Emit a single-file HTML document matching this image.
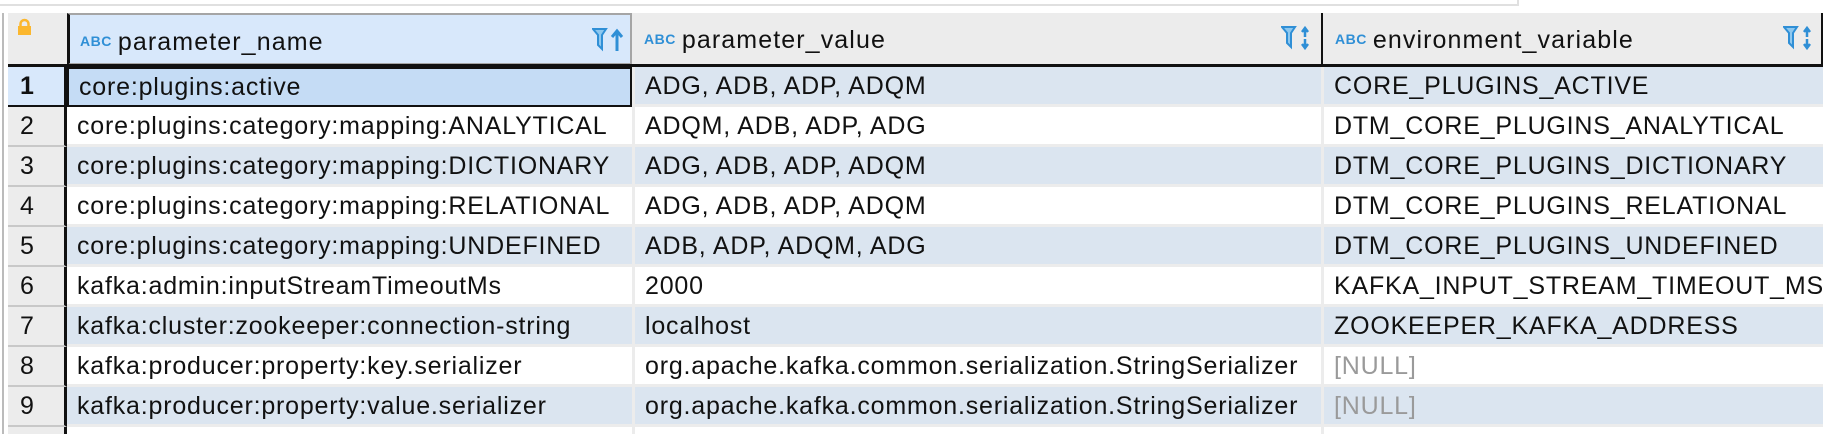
<!DOCTYPE html>
<html><head><style>
html,body{margin:0;width:1832px;height:434px;overflow:hidden;}
body{background:#fff;position:relative;font-family:"Liberation Sans",sans-serif;}
.abs{position:absolute;box-sizing:border-box;}
.cell{position:absolute;box-sizing:border-box;font-size:25px;letter-spacing:0.8px;padding-left:10px;white-space:nowrap;color:#111;overflow:hidden;}
.num{padding-left:12px;letter-spacing:0;}
.hd{position:absolute;box-sizing:border-box;font-size:25px;letter-spacing:1.1px;line-height:52px;color:#111;background:#ececec;top:13px;height:52px;}
.abc{font-size:14px;font-weight:bold;color:#2f8fd6;margin-right:6px;vertical-align:4px;letter-spacing:0.5px;}
.ic{position:absolute;top:12px;}
</style></head><body>
<div class="abs" style="left:0;top:-2px;width:1519px;height:8px;border:2px solid #e0e0e0;border-top:none;border-left:none"></div>
<div class="abs" style="left:2px;top:13px;width:2px;height:421px;background:#bbb"></div>
<div class="hd" style="left:8px;width:59px"></div>
<svg class="abs" style="left:17px;top:18px" width="15" height="18"><path d="M3.5 9V6a4 4 0 0 1 8 0v3" fill="none" stroke="#fbb72e" stroke-width="2.5"/><rect x="1" y="8" width="13" height="9" fill="#fbb72e"/></svg>
<div class="hd" style="left:67px;width:565px;background:#d8e8fb;border:2px solid #a5a5a5;padding-left:10px;border-left:3px solid #111"><span class="abc">ABC</span>parameter_name
<svg class="ic" style="right:6px" width="32" height="30"><path d="M1 2h13l-4 6v14l-4-4V8z" fill="#8ec8ef" stroke="#2f8fd6" stroke-width="2"/><path d="M25 24V4M20 10l5-6 5 6" fill="none" stroke="#2f8fd6" stroke-width="3"/></svg></div>
<div class="hd" style="left:632px;width:689px;padding-left:12px"><span class="abc">ABC</span>parameter_value
<svg class="ic" style="right:8px" width="32" height="30"><path d="M1 2h13l-4 6v14l-4-4V8z" fill="#8ec8ef" stroke="#2f8fd6" stroke-width="2"/><path d="M24 3v9M21 7l3-4 3 4M24 14v9M21 19l3 4 3-4" fill="none" stroke="#2f8fd6" stroke-width="2.5"/></svg></div>
<div class="hd" style="left:1321px;width:502px;padding-left:12px;border-left:2px solid #111;border-right:2px solid #111"><span class="abc">ABC</span>environment_variable
<svg class="ic" style="right:6px" width="32" height="30"><path d="M1 2h13l-4 6v14l-4-4V8z" fill="#8ec8ef" stroke="#2f8fd6" stroke-width="2"/><path d="M24 3v9M21 7l3-4 3 4M24 14v9M21 19l3 4 3-4" fill="none" stroke="#2f8fd6" stroke-width="2.5"/></svg></div>
<div class="abs" style="left:8px;top:64px;width:1815px;height:3px;background:#111"></div>
<div id="rows"></div>
<script>
const d=[["core:plugins:active","ADG, ADB, ADP, ADQM","CORE_PLUGINS_ACTIVE"],
["core:plugins:category:mapping:ANALYTICAL","ADQM, ADB, ADP, ADG","DTM_CORE_PLUGINS_ANALYTICAL"],
["core:plugins:category:mapping:DICTIONARY","ADG, ADB, ADP, ADQM","DTM_CORE_PLUGINS_DICTIONARY"],
["core:plugins:category:mapping:RELATIONAL","ADG, ADB, ADP, ADQM","DTM_CORE_PLUGINS_RELATIONAL"],
["core:plugins:category:mapping:UNDEFINED","ADB, ADP, ADQM, ADG","DTM_CORE_PLUGINS_UNDEFINED"],
["kafka:admin:inputStreamTimeoutMs","2000","KAFKA_INPUT_STREAM_TIMEOUT_MS"],
["kafka:cluster:zookeeper:connection-string","localhost","ZOOKEEPER_KAFKA_ADDRESS"],
["kafka:producer:property:key.serializer","org.apache.kafka.common.serialization.StringSerializer",null],
["kafka:producer:property:value.serializer","org.apache.kafka.common.serialization.StringSerializer",null],
["","",""]];
let h="";
d.forEach((r,i)=>{const y=67+i*40;const bg=i%2==0?"#dbe5f0":"#fff";const H=i==9?7:40;
h+=`<div class="cell num" style="left:8px;top:${y}px;width:59px;height:${H}px;line-height:38px;background:${i==0?'#d8e8fb':'#ececec'};border-bottom:${i==9?0:2}px solid ${i==0?'#111':'#c8c8c8'};border-right:3px solid #111;${i==0?'font-weight:bold':''}">${i<9?i+1:''}</div>`;
h+=`<div class="cell" style="left:67px;top:${y}px;width:565px;height:${H}px;background:${i==0?'#c5dcf5':bg};border:${i==0?'2px solid #111':'none'};border-bottom:${i==0?'2px solid #111':(i==9?'0':'3px solid #ececec')};line-height:${i==0?36:38}px">${r[0]}</div>`;
h+=`<div class="cell" style="left:632px;top:${y}px;width:689px;height:${H}px;background:${bg};border-bottom:${i==9?0:3}px solid #ececec;border-left:3px solid #ececec;line-height:38px">${r[1]}</div>`;
h+=`<div class="cell" style="left:1321px;top:${y}px;width:502px;height:${H}px;background:${bg};border-bottom:${i==9?0:3}px solid #ececec;border-left:3px solid #ececec;line-height:38px;${r[2]===null?'color:#9a9a9a':''}">${r[2]===null?'[NULL]':r[2]}</div>`;});
document.getElementById("rows").innerHTML=h;
</script>
</body></html>
